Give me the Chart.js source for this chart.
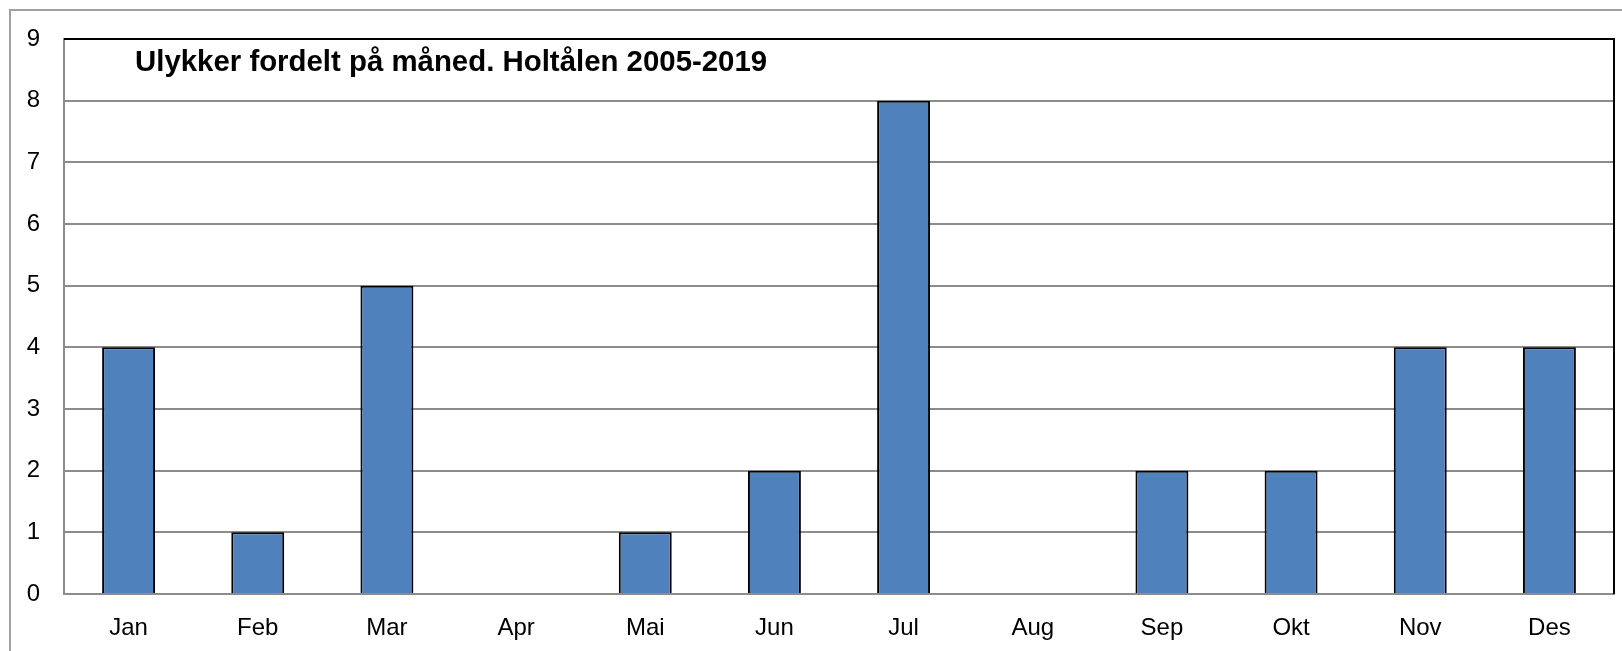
<!DOCTYPE html>
<html>
<head>
<meta charset="utf-8">
<script src="https://cdn.jsdelivr.net/npm/chart.js@4"></script>
<style>
  html, body { margin: 0; padding: 0; background: #fff; overflow: hidden; }
  #wrap { width: 1622px; height: 651px; }
</style>
</head>
<body>
<div id="wrap"><canvas id="chart" width="1622" height="651"></canvas></div>
<script>
const months = ['Jan', 'Feb', 'Mar', 'Apr', 'Mai', 'Jun', 'Jul', 'Aug', 'Sep', 'Okt', 'Nov', 'Des'];
const ulykker = [4, 1, 5, 0, 1, 2, 8, 0, 2, 2, 4, 4];
const yTicks = [0, 1, 2, 3, 4, 5, 6, 7, 8, 9];
const tittel = 'Ulykker fordelt på måned. Holtålen 2005-2019';

const FONT = '"Liberation Sans", Arial, sans-serif';

// ramme rundt diagrammet + svart kant øverst/høyre + tittel inni plottet
const rammePlugin = {
    id: 'ramme',
    beforeDraw(chart) {
        const c = chart.ctx;
        c.save();
        c.strokeStyle = '#a0a0a0';
        c.lineWidth = 2;
        c.beginPath();
        c.moveTo(10, chart.height);
        c.lineTo(10, 10);
        c.lineTo(chart.width, 10);
        c.stroke();
        c.restore();
    },
    afterDraw(chart) {
        const a = chart.chartArea;
        const c = chart.ctx;
        c.save();
        c.strokeStyle = '#000';
        c.lineWidth = 2;
        c.beginPath();
        c.moveTo(a.left, a.top);
        c.lineTo(a.right, a.top);
        c.lineTo(a.right, a.bottom);
        c.stroke();
        c.fillStyle = '#000';
        c.font = 'bold 29.4px ' + FONT;
        c.textBaseline = 'alphabetic';
        c.fillText(tittel, a.left + 71, 71);
        c.restore();
    }
};

new Chart(document.getElementById('chart'), {
    type: 'bar',
    data: {
        labels: months,
        datasets: [{
            data: ulykker,
            backgroundColor: '#4f81bd',
            borderColor: '#000',
            borderWidth: 2,
            barPercentage: 0.41,
            categoryPercentage: 1
        }]
    },
    options: {
        responsive: false,
        animation: false,
        layout: { padding: { left: 10, top: 39, right: 8, bottom: 0 } },
        plugins: { legend: { display: false }, tooltip: { enabled: false } },
        scales: {
            x: {
                grid: { display: false, drawTicks: false },
                border: { color: '#8c8c8c', width: 2 },
                ticks: { color: '#000', font: { family: FONT, size: 24 }, padding: 20 },
                afterFit(s) { s.height = 57; }
            },
            y: {
                min: 0,
                max: 9,
                afterBuildTicks(s) { s.ticks = yTicks.map(v => ({ value: v })); },
                grid: { color: '#8c8c8c', lineWidth: 2, drawTicks: false },
                border: { color: '#8c8c8c', width: 2 },
                ticks: { color: '#000', font: { family: FONT, size: 24 }, padding: 24 },
                afterFit(s) { s.width = 54; }
            }
        }
    },
    plugins: [rammePlugin]
});
</script>
</body>
</html>
